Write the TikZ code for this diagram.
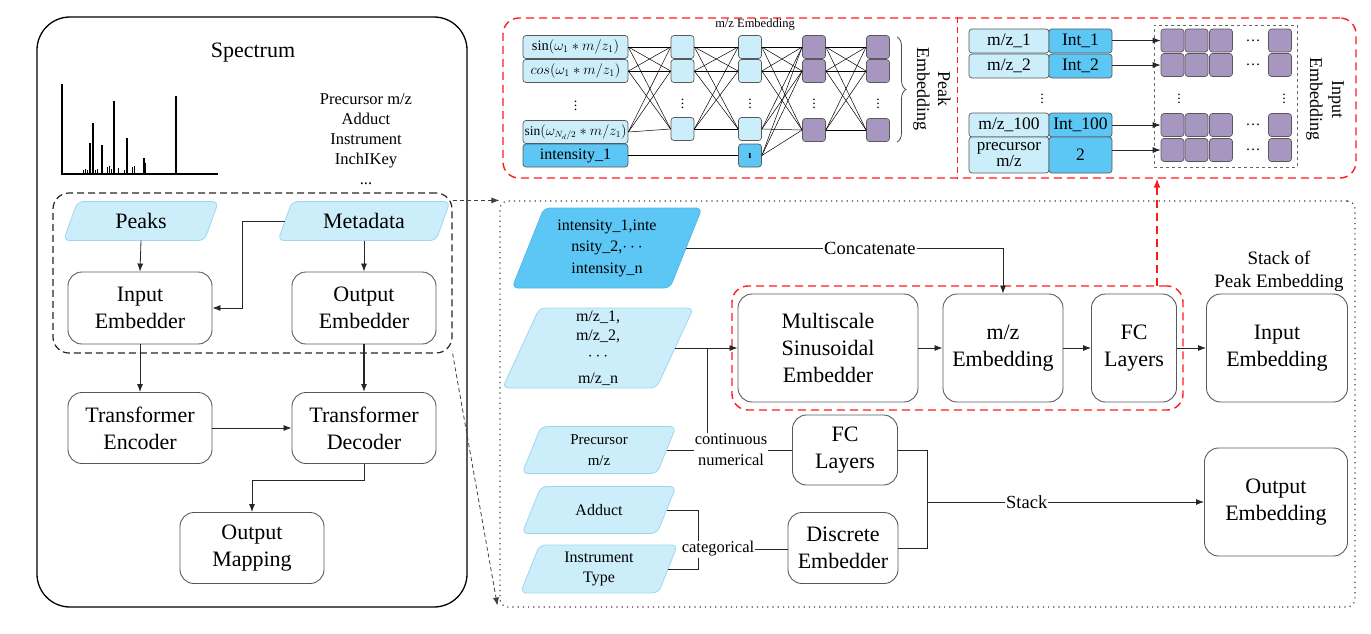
\documentclass[tikz,border=0pt]{standalone}
\usepackage{fontspec}
\setmainfont{Liberation Serif}
\usetikzlibrary{arrows.meta,decorations.pathreplacing,calc}
\definecolor{lb}{HTML}{CCEEFB}
\definecolor{lbd}{HTML}{9FD6EE}
\definecolor{db}{HTML}{5CC6F5}
\definecolor{dbd}{HTML}{4FB8E8}
\definecolor{pu}{HTML}{A797C0}
\definecolor{bx}{HTML}{595959}
\definecolor{rd}{HTML}{FF1A1A}
\newcommand{\fsz}[2]{\fontsize{#1}{#2}\selectfont}
\newcommand{\paranode}[9]{%
  \pgfmathsetmacro\pxa{#2-#4/2}\pgfmathsetmacro\pxb{#2+#4/2}%
  \pgfmathsetmacro\pya{#3-#5/2}\pgfmathsetmacro\pyb{#3+#5/2}%
  \pgfmathsetmacro\pxc{\pxa+#6}\pgfmathsetmacro\pxd{\pxb-#6}%
  \pgfmathsetmacro\pwid{#4-#6}%
  \draw[#7] (\pxa,\pyb) -- (\pxd,\pyb) -- (\pxb,\pya) -- (\pxc,\pya) -- cycle;
  \node[minimum width=\pwid pt, minimum height=#5pt, align=center, inner sep=0pt, font=#8] (#1) at (#2,#3) {#9};
}
\begin{document}
\begin{tikzpicture}[x=1pt,y=-1pt,
  box/.style={draw=bx, line width=0.9pt, rounded corners=14pt, align=center, inner sep=0pt, font=\fsz{22}{27}},
  arr/.style={-{Latex[length=8pt,width=6pt]}, line width=0.8pt, draw=black!85},
  ln/.style={line width=0.8pt, draw=black!85},
  nn/.style={line width=0.5pt, draw=black},
  sq/.style={draw=bx, line width=0.7pt, rounded corners=3pt, minimum width=23pt, minimum height=23pt, inner sep=0pt},
  lbsq/.style={sq, fill=lb},
  pusq/.style={sq, fill=pu},
  dbsq/.style={sq, fill=db},
  tbox/.style={draw=bx, line width=0.7pt, rounded corners=3pt, minimum width=105pt, minimum height=23pt, inner sep=0pt, fill=lb},
  redd/.style={draw=rd, dash pattern=on 8pt off 5pt, line width=1.4pt},
  lbl/.style={fill=white, inner sep=1pt, font=\fsz{18.5}{21}},
  lbl2/.style={fill=white, inner sep=1pt, align=center, font=\fsz{16.5}{21}},
  paral/.style={fill=lb, draw=lbd, line width=0.8pt, rounded corners=6pt},
  parad/.style={fill=db, draw=dbd, line width=0.8pt, rounded corners=6pt},
  vd/.style={inner sep=0pt, font=\fsz{14}{15}},
  dsh/.style={draw=black!75, dash pattern=on 4pt off 3pt, line width=0.8pt, -{Latex[length=8pt,width=6pt]}}
]
\useasboundingbox (0,0) rectangle (1371,633);

% ---------------- left panel ----------------
\node[draw=black, line width=1.3pt, rounded corners=33pt, minimum width=430pt, minimum height=590pt] (panel) at (252,312) {};
\node[font=\fsz{22}{26}] (spec) at (253,53) {Spectrum};
% spectrum plot
\draw[line width=1.5pt] (62,84) -- (62,174) -- (218,174);
\foreach \x/\t in {90/143, 93/123, 102/145, 114/101, 127/138, 144/158, 176/96}
  \draw[line width=1.4pt] (\x,174) -- (\x,\t);
\foreach \x/\t in {83/170, 85/169, 87/170, 95/170, 97/169, 107/167, 109/166, 111/169, 118/168, 124/170, 132/167, 134/166, 145/163}
  \draw[line width=1pt] (\x,174) -- (\x,\t);
% metadata list
\node[anchor=base, font=\fsz{16.5}{20}] (ml1) at (366,104) {Precursor m/z};
\node[anchor=base, font=\fsz{16.5}{20}] (ml2) at (366,124) {Adduct};
\node[anchor=base, font=\fsz{16.5}{20}] (ml3) at (366,144) {Instrument};
\node[anchor=base, font=\fsz{16.5}{20}] (ml4) at (366,164) {InchIKey};
\node[anchor=base, font=\fsz{16.5}{20}] (ml5) at (366,184) {...};

\node[draw=black!85, dash pattern=on 7pt off 4pt, line width=1.2pt, rounded corners=16pt, minimum width=399pt, minimum height=160pt] (inner) at (252.5,273) {};

\paranode{peaks}{141}{221}{155}{39}{14}{paral}{\fsz{22}{26}}{Peaks}
\paranode{meta}{364}{221}{172}{39}{14}{paral}{\fsz{22}{26}}{Metadata}

\node[box, minimum width=144pt, minimum height=72pt] (inemb) at (140,308) {Input\\Embedder};
\node[box, minimum width=144pt, minimum height=72pt] (outemb) at (364,308) {Output\\Embedder};
\node[box, minimum width=144pt, minimum height=71pt] (enc) at (140,428) {Transformer\\Encoder};
\node[box, minimum width=144pt, minimum height=71pt] (dec) at (364,428) {Transformer\\Decoder};
\node[box, minimum width=144pt, minimum height=71pt] (map) at (252,548) {Output\\Mapping};

\coordinate (mj) at (242,221);
\draw[arr] (peaks.south) -- (inemb.north);
\draw[arr] (meta.west) -- (mj) |- (inemb.east);
\draw[arr] (meta.south) -- (outemb.north);
\draw[arr] (inemb.south) -- (enc.north);
\draw[arr, line width=1.4pt] (outemb.south) -- (dec.north);
\draw[arr] (enc.east) -- (dec.west);
\draw[arr] (dec.south) -- ++(0,16) -| (map.north);

% ---------------- right dotted panel ----------------
\node[draw=black!75, dash pattern=on 1.2pt off 4pt, line width=1.2pt, rounded corners=8pt, minimum width=855pt, minimum height=406pt] (dot) at (927.5,404) {};
\draw[dsh] ($(inner.north east)+(0,8)$) -- (dot.north west);
\draw[dsh] (inner.south east) -- ($(dot.south west)+(-2,-2)$);

\paranode{intp}{607}{248}{190}{80}{32}{parad}{\fsz{16}{21.5}}{intensity\_1,inte\\nsity\_2,$\cdots$\\intensity\_n}
\paranode{mzp}{598}{348}{191}{80}{37}{paral}{\fsz{16}{19.5}}{m/z\_1,\\m/z\_2,\\$\cdots$\\[4pt]m/z\_n}

\node[redd, rounded corners=16pt, minimum width=451pt, minimum height=124pt] (redB) at (957.5,348) {};
\node[box, minimum width=180pt, minimum height=108pt] (mse) at (828,348) {Multiscale\\Sinusoidal\\Embedder};
\node[box, minimum width=120pt, minimum height=108pt] (mzemb) at (1003,348) {m/z\\Embedding};
\node[box, minimum width=85pt, minimum height=108pt] (fc1) at (1134,348) {FC\\Layers};
\node[box, minimum width=141pt, minimum height=108pt] (inpemb) at (1277,348) {Input\\Embedding};
\node[font=\fsz{19}{23}, align=center] (stk) at (1279,271) {Stack of\\Peak Embedding};

\draw[arr] (intp.east) -| node[lbl, pos=0.29] {Concatenate} (mzemb.north);
\draw[arr] (mzp.east) -- (mse.west);
\draw[arr] (mse.east) -- (mzemb.west);
\draw[arr] (mzemb.east) -- (fc1.west);
\draw[arr] (fc1.east) -- (inpemb.west);

\paranode{precp}{599}{450}{154}{47}{19}{paral}{\fsz{15}{21}}{Precursor\\m/z}
\paranode{addp}{599}{510}{154}{47}{19}{paral}{\fsz{16}{20}}{Adduct}
\paranode{instp}{599}{569}{157}{48}{19}{paral}{\fsz{16}{20}}{Instrument\\Type}

\node[box, minimum width=105pt, minimum height=70pt] (fc2) at (845,450) {FC\\Layers};
\node[box, minimum width=110pt, minimum height=71pt] (disc) at (843,548) {Discrete\\Embedder};
\node[box, minimum width=143pt, minimum height=108pt] (outemb2) at (1276,502) {Output\\Embedding};

\node[lbl2] (cont) at (731,450) {continuous\\numerical};
\coordinate (jn) at (707,348);
\draw[ln] (jn) -- (jn |- cont.north);
\draw[ln] (precp.east) -- (precp.east -| cont.west);
\draw[ln] (cont.east) -- (cont.east -| fc2.west);

\coordinate (cb) at (698,0);
\draw[ln] (addp.east) -| (cb |- instp.east) -- (instp.east);
\node[lbl2] (cat) at (718,549) {categorical};
\draw[ln] (cat.east) -- (cat.east -| disc.west);

\coordinate (sj) at (927,0);
\draw[ln] (fc2.east) -| (sj |- disc.east) -- (disc.east);
\draw[arr] (sj |- outemb2.west) -- node[lbl, pos=0.36] {Stack} (outemb2.west);

% ---------------- top red box ----------------
\node[redd, rounded corners=16pt, minimum width=853pt, minimum height=160pt] (redA) at (929.5,98) {};
\coordinate (dv) at (957,0);
\draw[draw=rd, dash pattern=on 6pt off 4pt, line width=1pt] (dv |- redA.north) -- (dv |- redA.south);
\coordinate (ru) at (1157,286);
\draw[redd, -{Latex[length=9pt,width=7pt]}] (ru) -- (ru |- redA.south);

% network
\node[font=\fsz{12.5}{14}] (mzl) at (755,25) {m/z Embedding};
\node[tbox, font=\fsz{14.5}{17}] (a1) at (575.5,47) {$\sin(\omega_1 \ast m/z_1)$};
\node[tbox, font=\fsz{14.5}{17}] (a2) at (575.5,71) {$cos(\omega_1 \ast m/z_1)$};
\node[vd] (ad) at (575.5,103) {$\vdots$};
\node[tbox, font=\fsz{13.5}{17}] (a3) at (575.5,132) {$\sin(\omega_{N_d/2} \ast m/z_1)$};
\node[tbox, fill=db, font=\fsz{16}{18}] (a4) at (575.5,155.5) {intensity\_1};

\foreach \n/\y in {1/47, 2/71, 3/129} {
  \node[lbsq] (b\n) at (682.5,\y) {};
  \node[lbsq] (c\n) at (750,\y) {};
}
\foreach \n/\y in {1/47, 2/71, 3/130} {
  \node[pusq] (d\n) at (814,\y) {};
  \node[pusq] (e\n) at (878,\y) {};
}
\node[dbsq, font=\fsz{11}{12}] (c4) at (750,155.5) {\bfseries ı};
\foreach \x in {682.5, 750, 814, 878} \node[vd] at (\x,101) {$\vdots$};

\foreach \i in {1,2,3} \foreach \j in {1,2,3} {
  \draw[nn] (a\i.east) -- (b\j.west);
  \draw[nn] (b\i.east) -- (c\j.west);
  \draw[nn] (d\i.east) -- (e\j.west);
}
\foreach \i in {1,2,3,4} \foreach \j in {1,2,3} \draw[nn] (c\i.east) -- (d\j.west);
\draw[nn] (a4.east) -- (c4.west);

\draw[decorate, decoration={brace, amplitude=9pt}, line width=0.8pt, draw=black!70] (897,37) -- (897,142);
\node[rotate=-90, align=center, font=\fsz{18}{21}] (pe) at (932,89) {Peak\\Embedding};

% input embedding table
\node[tbox, minimum width=80pt, minimum height=24pt, font=\fsz{17.5}{18}] (p1) at (1009,41) {m/z\_1};
\node[tbox, fill=db, minimum width=63pt, minimum height=24pt, font=\fsz{17.5}{18}] (q1) at (1080.5,41) {Int\_1};
\node[tbox, minimum width=80pt, minimum height=24pt, font=\fsz{17.5}{18}] (p2) at (1009,66) {m/z\_2};
\node[tbox, fill=db, minimum width=63pt, minimum height=24pt, font=\fsz{17.5}{18}] (q2) at (1080.5,66) {Int\_2};
\node[vd] (pd) at (1042,96) {$\vdots$};
\node[tbox, minimum width=80pt, minimum height=24pt, font=\fsz{17.5}{18}] (p3) at (1009,125) {m/z\_100};
\node[tbox, fill=db, minimum width=63pt, minimum height=24pt, font=\fsz{17.5}{18}] (q3) at (1080.5,125) {Int\_100};
\node[tbox, minimum width=80pt, minimum height=36pt, align=center, font=\fsz{17}{16}] (p4) at (1009,155) {precursor\\m/z};
\node[tbox, fill=db, minimum width=63pt, minimum height=36pt, font=\fsz{17.5}{18}] (q4) at (1080.5,155) {2};

\node[draw=black!60, dashed, line width=0.7pt, minimum width=143pt, minimum height=142pt] (gbox) at (1225.5,96) {};
\foreach \r/\y in {1/40.5, 2/65, 3/125, 4/150} {
  \foreach \c/\x in {1/1172.5, 2/1196.5, 3/1221, 4/1280} \node[pusq] (g\r\c) at (\x,\y) {};
  \node[inner sep=0pt, font=\fsz{15}{17}] at (1253,\y) {\dots};
}
\node[vd] at (1179,96) {$\vdots$};
\node[vd] at (1284,96) {$\vdots$};
\foreach \r in {1,2,3,4} \draw[arr] (q\r.east |- g\r1.west) -- (g\r1.west);
\node[rotate=-90, align=center, font=\fsz{18}{22}] (ie) at (1325,99) {Input\\Embedding};
\end{tikzpicture}
\end{document}
